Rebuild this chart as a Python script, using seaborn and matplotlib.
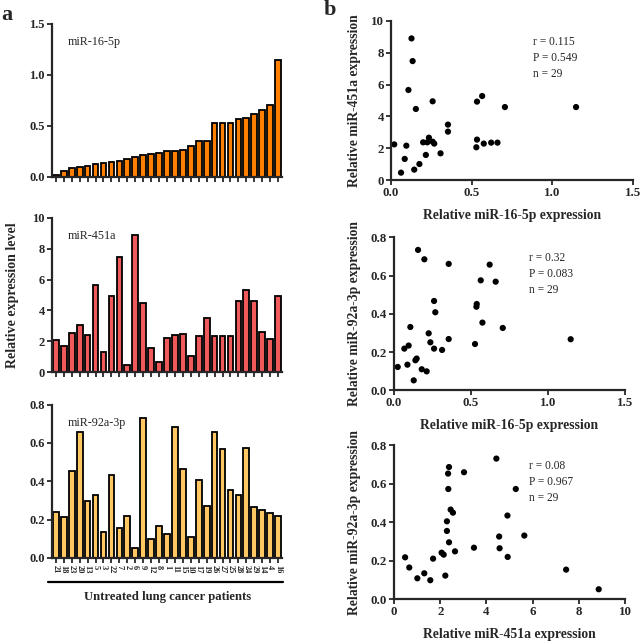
import numpy as np
import pandas as pd
import seaborn as sns
import matplotlib.pyplot as plt
from matplotlib.lines import Line2D

# patients in order of increasing miR-16-5p
patients = ["21", "18", "23", "20", "13", "5", "3", "22", "7", "2", "6", "9", "12", "8", "1",
            "11", "15", "10", "17", "19", "26", "27", "25", "28", "24", "29", "14", "4", "16"]

mir16 = [0.02, 0.062, 0.085, 0.095, 0.108, 0.127, 0.134, 0.144, 0.154, 0.176, 0.199, 0.216,
         0.225, 0.235, 0.258, 0.258, 0.268, 0.307, 0.353, 0.353, 0.529, 0.533, 0.533, 0.565,
         0.575, 0.621, 0.66, 0.706, 1.147]
mir451 = [2.07, 1.70, 2.56, 3.04, 2.41, 5.67, 1.34, 4.94, 7.46, 0.50, 8.90, 4.46, 1.59, 0.69,
          2.24, 2.41, 2.48, 1.03, 2.35, 3.49, 2.37, 2.37, 2.33, 4.59, 5.30, 4.59, 2.63, 2.16, 4.94]
mir92 = [0.242, 0.212, 0.452, 0.659, 0.296, 0.330, 0.134, 0.435, 0.155, 0.219, 0.054, 0.732,
         0.099, 0.165, 0.123, 0.683, 0.466, 0.111, 0.407, 0.270, 0.656, 0.569, 0.355, 0.327,
         0.576, 0.268, 0.250, 0.233, 0.219]

# scatter panels
s1_x = [0.02, 0.062, 0.085, 0.095, 0.108, 0.127, 0.134, 0.144, 0.154, 0.176, 0.199, 0.216,
        0.225, 0.235, 0.258, 0.258, 0.268, 0.307, 0.353, 0.353, 0.529, 0.533, 0.533, 0.565,
        0.575, 0.621, 0.66, 0.706, 1.147]
s1_y = [2.25, 0.48, 1.34, 2.17, 5.66, 8.89, 7.47, 0.67, 4.47, 1.02, 2.38, 1.59, 2.38, 2.67,
        4.95, 2.42, 2.30, 1.69, 3.49, 3.05, 2.07, 4.93, 2.55, 5.28, 2.30, 2.36, 2.36, 4.59, 4.59]

s2_x = [0.024, 0.067, 0.087, 0.095, 0.106, 0.128, 0.139, 0.147, 0.156, 0.180, 0.197, 0.212,
        0.225, 0.236, 0.260, 0.260, 0.268, 0.312, 0.355, 0.355, 0.526, 0.535, 0.537, 0.563,
        0.574, 0.621, 0.660, 0.706, 1.147]
s2_y = [0.122, 0.218, 0.134, 0.234, 0.331, 0.052, 0.157, 0.166, 0.734, 0.110, 0.685, 0.099,
        0.298, 0.251, 0.218, 0.467, 0.408, 0.211, 0.661, 0.268, 0.242, 0.437, 0.451, 0.575,
        0.354, 0.657, 0.568, 0.326, 0.267]

s3_x = [0.48, 0.66, 1.01, 1.31, 1.57, 1.69, 2.06, 2.15, 2.22, 2.29, 2.29, 2.34, 2.35, 2.38,
        2.38, 2.45, 2.55, 2.64, 3.03, 3.46, 4.43, 4.55, 4.57, 4.91, 4.92, 5.27, 5.64, 7.45, 8.86]
s3_y = [0.218, 0.165, 0.109, 0.135, 0.099, 0.211, 0.242, 0.232, 0.123, 0.405, 0.355, 0.653,
        0.573, 0.687, 0.296, 0.466, 0.450, 0.249, 0.660, 0.268, 0.731, 0.326, 0.265, 0.435,
        0.220, 0.573, 0.331, 0.154, 0.052]

stats = ["r = 0.115\nP = 0.549\nn = 29",
         "r = 0.32\nP = 0.083\nn = 29",
         "r = 0.08\nP = 0.967\nn = 29"]

sns.set_style("ticks")
plt.rcParams['font.family'] = ['Liberation Serif', 'DejaVu Serif']
plt.rcParams['axes.linewidth'] = 1.6
plt.rcParams['xtick.major.width'] = 1.3
plt.rcParams['ytick.major.width'] = 1.3
plt.rcParams['xtick.major.size'] = 3.5
plt.rcParams['ytick.major.size'] = 3.5

fig = plt.figure(figsize=(6.41, 6.41), dpi=100)

df = pd.DataFrame({"patient": patients, "mir16": mir16, "mir451": mir451, "mir92": mir92})

bar_specs = [
    ("mir16", "miR-16-5p", "#FF8000", [0.081, 0.7239, 0.359, 0.2387], (0, 1.5), [0, 0.5, 1.0, 1.5], "%.1f"),
    ("mir451", "miR-451a", "#F05A5A", [0.081, 0.4192, 0.359, 0.2412], (0, 10), [0, 2, 4, 6, 8, 10], "%d"),
    ("mir92", "miR-92a-3p", "#FFC862", [0.081, 0.1295, 0.359, 0.2392], (0, 0.8), [0, 0.2, 0.4, 0.6, 0.8], "%.1f"),
]

for i, (col, name, color, pos, ylim, yt, fmt) in enumerate(bar_specs):
    ax = fig.add_axes(pos)
    sns.barplot(data=df, x="patient", y=col, color=color, edgecolor="black",
                linewidth=1.3, width=0.72, saturation=1, ax=ax)
    ax.set_xlim(-0.5, 28.5)
    ax.set_ylim(*ylim)
    ax.set_yticks(yt)
    ax.set_yticklabels([fmt % v for v in yt], fontweight="bold", fontsize=9)
    ax.set_xlabel("")
    ax.set_ylabel("")
    ax.set_xticks(range(len(patients)))
    if i == 2:
        ax.set_xticklabels(patients, rotation=270, fontsize=6, fontweight="bold")
        ax.tick_params(axis="x", pad=1.5)
    else:
        ax.set_xticklabels([])
    ax.tick_params(axis="y", pad=1.5)
    ax.text(0.07, 0.86, name, transform=ax.transAxes, fontsize=8.7)
    sns.despine(ax=ax)
    if i == 1:
        ax.set_ylabel("Relative expression level", fontsize=10, fontweight="bold")
        ax.yaxis.set_label_coords(-0.143, 0.5)

# patient group line and label
fig.add_artist(Line2D([48 / 641, 283 / 641], [1 - 581.5 / 641] * 2, color="black", lw=1.6))
fig.text(168 / 641, 1 - 597 / 641, "Untreated lung cancer patients", ha="center", va="center",
         fontsize=9.2, fontweight="bold")

sc_specs = [
    (s1_x, s1_y, [0.610, 0.7187, 0.3775, 0.249], (0, 1.5), [0, 0.5, 1.0, 1.5], "%.1f",
     (0, 10), [0, 2, 4, 6, 8, 10], "%d", "Relative miR-16-5p expression", "Relative miR-451a expression", -0.124),
    (s2_x, s2_y, [0.6147, 0.3911, 0.3604, 0.2387], (0, 1.5), [0, 0.5, 1.0, 1.5], "%.1f",
     (0, 0.8), [0, 0.2, 0.4, 0.6, 0.8], "%.1f", "Relative miR-16-5p expression", "Relative miR-92a-3p expression", -0.143),
    (s3_x, s3_y, [0.6147, 0.0651, 0.3604, 0.2402], (0, 10), [0, 2, 4, 6, 8, 10], "%d",
     (0, 0.8), [0, 0.2, 0.4, 0.6, 0.8], "%.1f", "Relative miR-451a expression", "Relative miR-92a-3p expression", -0.143),
]

for j, (xs, ys, pos, xlim, xt, xfmt, ylim, yt, yfmt, xl, yl, ylx) in enumerate(sc_specs):
    ax = fig.add_axes(pos)
    sns.scatterplot(x=xs, y=ys, color="black", s=20, edgecolor="none", ax=ax, clip_on=False)
    ax.set_xlim(*xlim)
    ax.set_ylim(*ylim)
    ax.set_xticks(xt)
    ax.set_xticklabels([xfmt % v for v in xt], fontweight="bold", fontsize=9.3)
    ax.set_yticks(yt)
    ax.set_yticklabels([yfmt % v for v in yt], fontweight="bold", fontsize=9.3)
    ax.tick_params(axis="both", pad=1.5)
    ax.set_xlabel(xl, fontsize=9.8, fontweight="bold", labelpad=7)
    ax.set_ylabel(yl, fontsize=9.8, fontweight="bold")
    ax.yaxis.set_label_coords(ylx, 0.5)
    ax.text(0.585, 0.905, stats[j], transform=ax.transAxes, fontsize=8.3, va="top", linespacing=1.45)
    sns.despine(ax=ax)

fig.text(7 / 641, 1 - 15 / 641, "a", fontsize=16, fontweight="bold", ha="center", va="center")
fig.text(330 / 641, 1 - 10 / 641, "b", fontsize=16, fontweight="bold", ha="center", va="center")

fig.savefig("out.png", dpi=100)
